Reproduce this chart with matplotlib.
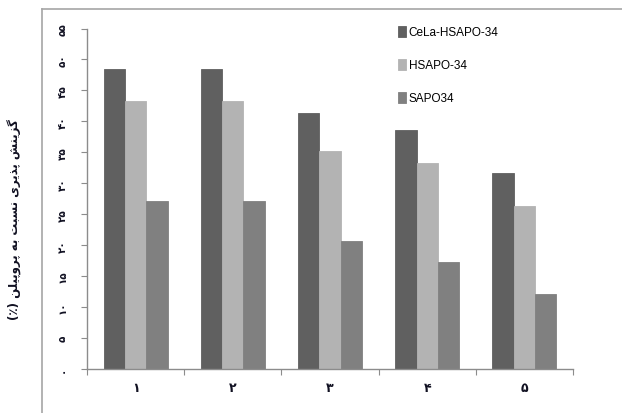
import matplotlib
matplotlib.use("Agg")
import numpy as np
import matplotlib.pyplot as plt
from matplotlib.lines import Line2D

# داده ها (خوانده شده از نمودار)
groups = ["۱", "۲", "۳", "۴", "۵"]
series_names = ["CeLa-HSAPO-34", "HSAPO-34", "SAPO34"]
cela = [48.5, 48.5, 41.4, 38.6, 31.7]
hsapo = [43.3, 43.3, 35.2, 33.3, 26.4]
sapo = [27.2, 27.2, 20.7, 17.3, 12.1]
yticks = [0, 5, 10, 15, 20, 25, 30, 35, 40, 45, 50, 55]
ylabel_fa = "گزینش پذیری نسبت به پروپیلن (٪)"

colors = ["#606060", "#b3b3b3", "#808080"]

# شکل دهی ساده حروف فارسی (matplotlib اتصال حروف را انجام نمی دهد)
FORMS = {
    "ا": "\uFE8D\uFE8E", "ب": "\uFE8F\uFE90\uFE91\uFE92", "پ": "\uFB56\uFB57\uFB58\uFB59",
    "ت": "\uFE95\uFE96\uFE97\uFE98", "ذ": "\uFEAB\uFEAC", "ر": "\uFEAD\uFEAE",
    "ز": "\uFEAF\uFEB0", "س": "\uFEB1\uFEB2\uFEB3\uFEB4", "ش": "\uFEB5\uFEB6\uFEB7\uFEB8",
    "گ": "\uFB92\uFB93\uFB94\uFB95", "ل": "\uFEDD\uFEDE\uFEDF\uFEE0",
    "ن": "\uFEE5\uFEE6\uFEE7\uFEE8", "ه": "\uFEE9\uFEEA\uFEEB\uFEEC",
    "و": "\uFEED\uFEEE", "ی": "\uFBFC\uFBFD\uFBFE\uFBFF",
}


def shape_fa(text):
    out = []
    for i, ch in enumerate(text):
        if ch not in FORMS:
            out.append(ch)
            continue
        prev = text[i - 1] if i > 0 else ""
        nxt = text[i + 1] if i + 1 < len(text) else ""
        dual = len(FORMS[ch]) == 4
        join_prev = prev in FORMS and len(FORMS[prev]) == 4
        join_next = dual and nxt in FORMS
        if join_prev and join_next:
            out.append(FORMS[ch][3])
        elif join_prev:
            out.append(FORMS[ch][1])
        elif join_next:
            out.append(FORMS[ch][2])
        else:
            out.append(FORMS[ch][0])
    vis = "".join(out)[::-1]
    return vis.translate(str.maketrans("()", ")("))


def fa_digits(n):
    return str(n).translate(str.maketrans("0123456789", "۰۱۲۳۴۵۶۷۸۹"))


fig = plt.figure(figsize=(6.22, 4.14), dpi=100)
ax = fig.add_axes([87 / 622, 1 - 370 / 414, (573 - 87) / 622, (370 - 29.5) / 414])

x = np.arange(len(groups))
w = 0.22
for k, vals in enumerate([cela, hsapo, sapo]):
    ax.bar(x + (k - 1) * w, vals, width=w, color=colors[k], label=series_names[k],
           edgecolor=colors[k], linewidth=0.6)

ax.set_xlim(-0.5, len(groups) - 0.5)
ax.set_ylim(0, 55)

gray = "#8c8c8c"
for s in ["top", "right"]:
    ax.spines[s].set_visible(False)
for s in ["left", "bottom"]:
    ax.spines[s].set_color(gray)
    ax.spines[s].set_linewidth(1.0)

ax.set_yticks(yticks)
ax.set_yticklabels([fa_digits(v) for v in yticks], rotation=90, va="center",
                   family="DejaVu Sans", fontweight="bold", fontsize=7.5, color="#111122")
ax.tick_params(axis="y", length=4, color=gray, pad=10)

ax.set_xticks(np.arange(-0.5, len(groups), 1.0))
ax.set_xticklabels([])
ax.set_xticks(x, minor=True)
ax.set_xticklabels(groups, minor=True, family="DejaVu Sans", fontweight="bold",
                   fontsize=9, color="#111122")
ax.tick_params(axis="x", which="major", length=4, color=gray)
ax.tick_params(axis="x", which="minor", length=0, pad=9)

fig.text(15 / 622, 1 - 220 / 414, shape_fa(ylabel_fa), rotation=90, ha="center", va="center",
         family="DejaVu Sans", fontweight="bold", fontsize=8.5, color="#111122")

ax.legend(loc="upper left", bbox_to_anchor=(398 / 622, 1 - 27 / 414),
          bbox_transform=fig.transFigure, frameon=False,
          handlelength=0.7, handleheight=1.0, handletextpad=0.2,
          labelspacing=1.75, borderpad=0, borderaxespad=0,
          prop={"family": "Liberation Sans", "size": 8.5})

# قاب بیرونی نمودار
fig.add_artist(Line2D([42 / 622, 42 / 622], [0, 1 - 10 / 414], color="#a6a6a6", lw=1.2,
                      transform=fig.transFigure))
fig.add_artist(Line2D([42 / 622, 1], [1 - 10 / 414, 1 - 10 / 414], color="#a6a6a6", lw=1.2,
                      transform=fig.transFigure))

fig.savefig("out.png", dpi=100)
